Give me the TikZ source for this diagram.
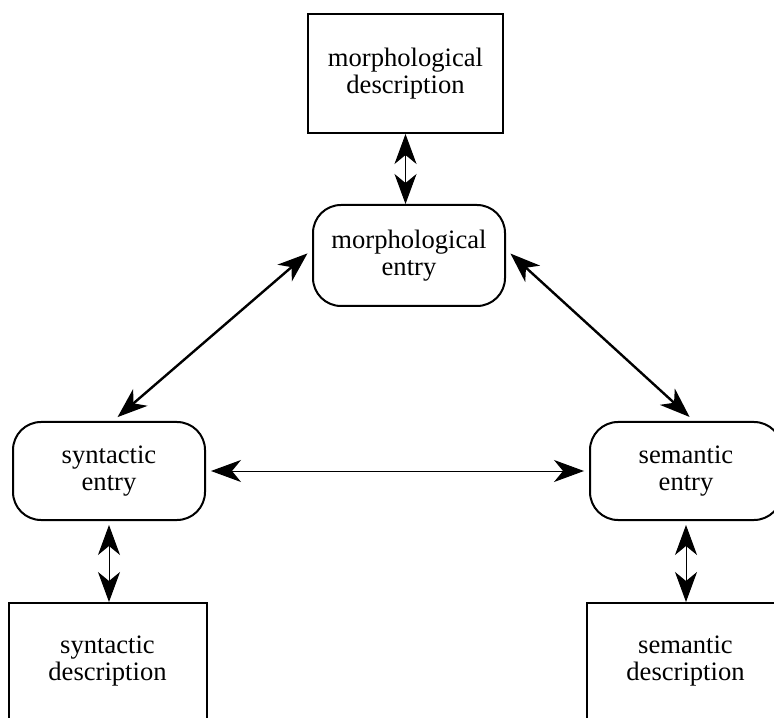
\documentclass[tikz,border=0pt]{standalone}
\usepackage{fontspec}
\setmainfont{Liberation Serif}
\usetikzlibrary{arrows.meta}

\begin{document}
\begin{tikzpicture}[x=0.5pt, y=0.5pt, >={Stealth[length=15pt,width=11pt,inset=4.5pt]},
    every node/.style={draw, line width=1pt, align=center, font=\fontsize{13.3}{13.3}\selectfont},
    entry/.style={rounded corners=14pt, minimum width=96pt},
    descr/.style={minimum width=99pt}]
            \useasboundingbox (0,0) rectangle (774,717);
            \clip (0,0) rectangle (774,717);
            \node[descr, minimum width=97.5pt, minimum height=59.5pt] (md) at (405.5,643.5) {morphological\\description};
            \node[entry, minimum height=50.5pt] (me) at (409,461.5) {morphological\\entry};
            \node[entry, minimum height=49pt] (se) at (109,246) {syntactic\\entry};
            \node[entry, minimum height=49pt] (te) at (686,246) {semantic\\entry};
            \node[descr, minimum height=58pt] (sd) at (107.5,56) {syntactic\\description};
            \node[descr, minimum height=58pt] (td) at (685.5,56) {semantic\\description};
            %
            \draw [<->, line width=0.5pt](md.south)--(md.south |- me.north);
            \draw [<->, line width=0.5pt, shorten <=2pt](se.south)--(se.south |- sd.north);
            \draw [<->, line width=0.5pt, shorten <=2pt](te.south)--(te.south |- td.north);
            \draw [<->, line width=0.5pt, shorten <=2.5pt, shorten >=2.5pt](se.east)--(te.west);
            %
            \draw [<->, line width=1.2pt, shorten <=3pt, shorten >=3pt]([xshift=2pt]se.north)--([yshift=3pt]me.west);
            \draw [<->, line width=1.2pt, shorten <=3pt, shorten >=3pt]([yshift=3pt]me.east)--([xshift=4pt]te.north);
        \end{tikzpicture}
\end{document}
